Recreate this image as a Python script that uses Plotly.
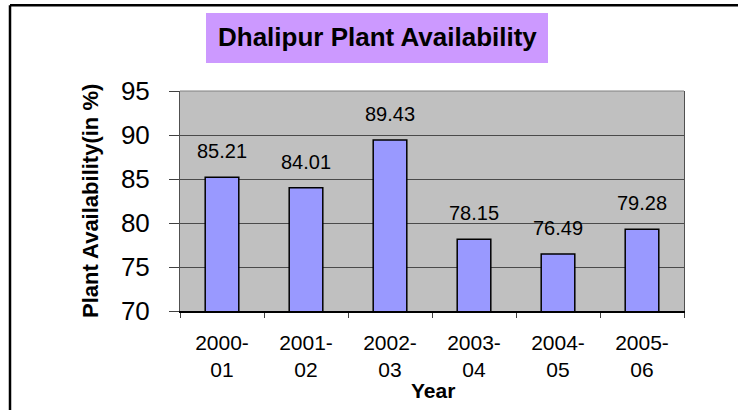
import plotly.graph_objects as go

# ---- data ----
years = ["2000-01", "2001-02", "2002-03", "2003-04", "2004-05", "2005-06"]
availability = [85.21, 84.01, 89.43, 78.15, 76.49, 79.28]
tick_labels = ["2000-<br>01", "2001-<br>02", "2002-<br>03", "2003-<br>04", "2004-<br>05", "2005-<br>06"]
y_ticks = [70, 75, 80, 85, 90, 95]
title_text = "Dhalipur Plant Availability"
y_title = "Plant Availability(in %)"
x_title = "Year"

# ---- layout geometry (pixels) ----
W, H = 738, 410
L, R, T, B = 180, 684, 91, 311
FONT = "Liberation Sans, Arial, sans-serif"


def px2x(px):
    return (px - L) / (R - L)


def px2y(py):
    return (B - py) / (B - T)


fig = go.Figure()
fig.add_trace(go.Bar(
    x=years, y=availability,
    marker=dict(color="#9999ff", line=dict(color="black", width=1.5)),
    width=0.4,
    hoverinfo="x+y",
))

annotations = []
for yr, v in zip(years, availability):
    annotations.append(dict(
        x=yr, y=v, xref="x", yref="y", text=f"{v:.2f}", showarrow=False,
        yanchor="middle", yshift=26,
        font=dict(family=FONT, size=20, color="black"),
    ))

annotations.append(dict(
    x=px2x(377), y=px2y(37), xref="paper", yref="paper", text="<b>" + title_text + "</b>",
    showarrow=False, xanchor="center", yanchor="middle",
    font=dict(family=FONT, size=26, color="black"),
))
annotations.append(dict(
    x=px2x(90), y=px2y(201), xref="paper", yref="paper", text="<b>" + y_title + "</b>",
    showarrow=False, xanchor="center", yanchor="middle", textangle=-90,
    font=dict(family=FONT, size=22, color="black"),
))
annotations.append(dict(
    x=px2x(433), y=px2y(390), xref="paper", yref="paper", text="<b>" + x_title + "</b>",
    showarrow=False, xanchor="center", yanchor="middle",
    font=dict(family=FONT, size=21, color="black"),
))

shapes = [
    # title box
    dict(type="rect", xref="paper", yref="paper",
         x0=px2x(206), x1=px2x(548), y0=px2y(63), y1=px2y(13),
         fillcolor="#cc99ff", line=dict(width=0), layer="below"),
    # top border of plot area
    dict(type="line", xref="paper", yref="paper",
         x0=0, x1=1, y0=1, y1=1, line=dict(color="#808080", width=1)),
    # outer chart border (top and left)
    dict(type="line", xref="paper", yref="paper",
         x0=px2x(10), x1=px2x(760), y0=px2y(5.3), y1=px2y(5.3),
         line=dict(color="black", width=2.5)),
    dict(type="line", xref="paper", yref="paper",
         x0=px2x(10), x1=px2x(10), y0=px2y(5.3), y1=px2y(430),
         line=dict(color="black", width=2.5)),
]

fig.update_layout(
    width=W, height=H, autosize=False,
    margin=dict(l=L, r=W - R, t=T, b=H - B, pad=0),
    paper_bgcolor="white", plot_bgcolor="#c0c0c0",
    showlegend=False,
    annotations=annotations, shapes=shapes,
    font=dict(family=FONT, color="black"),
)
fig.update_xaxes(
    type="category", tickmode="array", tickvals=years, ticktext=tick_labels,
    tickson="boundaries", ticks="outside", ticklen=5, tickcolor="#404040",
    showline=True, linecolor="black", linewidth=1.5,
    showgrid=False, tickfont=dict(family=FONT, size=21, color="black"),
    ticklabelstandoff=12,
)
fig.update_yaxes(
    range=[70, 95], tickmode="array", tickvals=y_ticks,
    ticks="outside", ticklen=10, tickcolor="#404040",
    showline=True, linecolor="#505050", linewidth=1, mirror=True,
    showgrid=True, gridcolor="#4a4a4a", gridwidth=1, zeroline=False,
    tickfont=dict(family=FONT, size=26, color="black"),
    ticklabelstandoff=14,
)

fig.write_html(
    "out.html",
    config={"displayModeBar": False},
    post_script="document.body.style.margin='0';document.body.style.overflow='hidden';",
)
